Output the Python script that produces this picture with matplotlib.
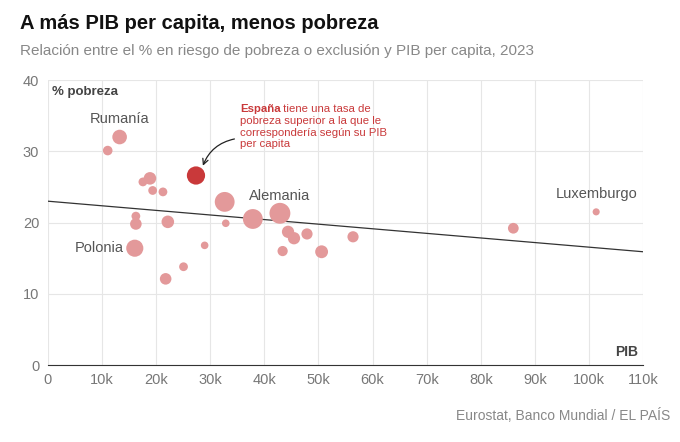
import numpy as np
import matplotlib.pyplot as plt
from matplotlib.transforms import offset_copy

plt.rcParams['font.family'] = ['Liberation Sans', 'DejaVu Sans']

# PIB per capita (miles), % pobreza, tamaño relativo
pib = [13.3, 11.1, 18.9, 17.6, 19.4, 21.3, 27.4, 32.7, 32.9, 42.9, 37.9, 16.3, 16.3, 22.2,
       44.4, 45.5, 47.9, 56.4, 43.4, 50.6, 16.1, 29.0, 25.1, 21.8, 86.0, 101.3]
pobreza = [32.0, 30.1, 26.2, 25.7, 24.5, 24.3, 26.6, 22.9, 19.9, 21.3, 20.5, 20.9, 19.8, 20.1,
           18.7, 17.8, 18.4, 18.0, 16.0, 15.9, 16.4, 16.8, 13.8, 12.1, 19.2, 21.5]
poblacion = [19, 3, 10, 2, 2, 2, 48, 68, 1, 84, 68, 2, 7, 10,
             9, 9, 6, 6, 4, 11, 37, 1, 2, 7, 5, 0.7]
etiquetas = {0: 'Rumanía', 9: 'Alemania', 20: 'Polonia', 25: 'Luxemburgo'}
espana = 6
tend_x = [0, 110]
tend_y = [23.0, 15.9]

fig = plt.figure(figsize=(6.8, 4.42), dpi=100)
ax = fig.add_axes([0.07, 0.174, 0.876, 0.645])

sizes = np.sqrt(np.array(poblacion)) * 24 + 6
colors = ['#c9393a' if i == espana else '#e3999a' for i in range(len(pib))]
ax.scatter(pib, pobreza, s=sizes, c=colors, zorder=3, edgecolors='none')
ax.plot(tend_x, tend_y, color='#333333', lw=0.9, zorder=2)

offs = {0: (0, 1.6), 9: (0, 1.5), 20: (-6.5, 0), 25: (0, 1.5)}
for i, name in etiquetas.items():
    dx, dy = offs[i]
    ax.text(pib[i] + dx, pobreza[i] + dy, name, fontsize=10.5, color='#555555',
            ha='center', va='bottom' if dy else 'center')

t1 = ax.text(35.5, 36.6, 'España', fontsize=8.2, color='#c9393a', fontweight='bold', va='top')
fig.canvas.draw()
w = t1.get_window_extent().width
ax.text(35.5, 36.6, ' tiene una tasa de', fontsize=8.2, color='#c9393a', va='top',
        transform=offset_copy(ax.transData, fig=fig, x=w, y=0, units='dots'))
ax.text(35.5, 34.9, 'pobreza superior a la que le\ncorrespondería según su PIB\nper capita',
        fontsize=8.2, color='#c9393a', va='top', linespacing=1.15)
ax.annotate('', xy=(28.5, 27.6), xytext=(35.0, 31.8),
            arrowprops=dict(arrowstyle='->', color='#222222', lw=0.9,
                            connectionstyle='arc3,rad=0.3'))

ax.set_xlim(0, 110)
ax.set_ylim(0, 40)
ax.set_xticks(range(0, 111, 10))
ax.set_xticklabels(['0'] + [f'{v}k' for v in range(10, 111, 10)])
ax.set_yticks(range(0, 41, 10))
ax.grid(color='#e6e6e6', lw=0.8)
ax.set_axisbelow(True)
for s in ['top', 'right', 'left']:
    ax.spines[s].set_visible(False)
ax.spines['bottom'].set_color('#333333')
ax.tick_params(length=0, labelsize=10.5, colors='#777777', pad=6)
ax.text(0.8, 39.2, '% pobreza', fontsize=9.5, fontweight='bold', color='#444444', va='top')
ax.text(109, 0.8, 'PIB', fontsize=10, fontweight='bold', color='#444444', ha='right', va='bottom')

fig.text(0.03, 0.935, 'A más PIB per capita, menos pobreza', fontsize=14.5, fontweight='bold', color='#111111')
fig.text(0.03, 0.875, 'Relación entre el % en riesgo de pobreza o exclusión y PIB per capita, 2023',
         fontsize=11, color='#888888')
fig.text(0.985, 0.05, 'Eurostat, Banco Mundial / EL PAÍS', fontsize=10, color='#888888', ha='right')

fig.savefig('out.png', dpi=100, facecolor='white')
